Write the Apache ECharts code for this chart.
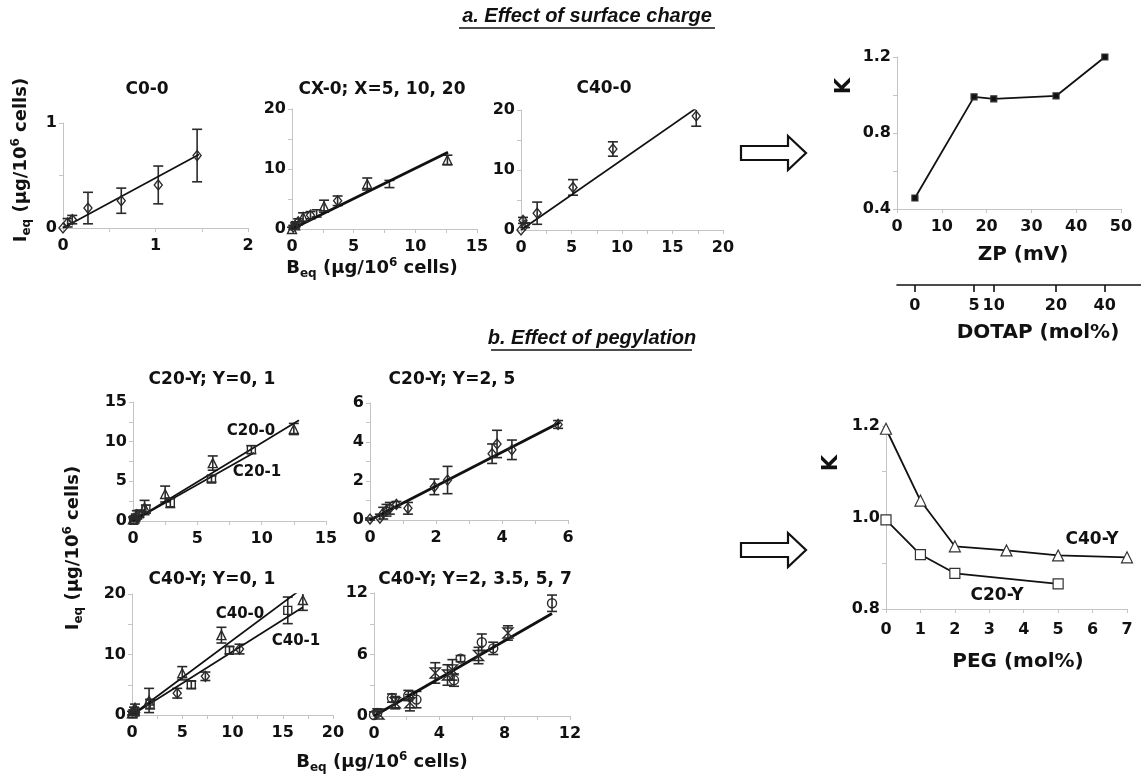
<!DOCTYPE html>
<html>
<head>
<meta charset="utf-8">
<script src="https://cdn.jsdelivr.net/npm/echarts@6/dist/echarts.min.js"></script>
<style>
  html, body { margin: 0; padding: 0; background: #fff; }
  #chart { width: 1141px; height: 775px; }
</style>
</head>
<body>
<div id="chart"></div>
<script>
// ---- data: [B_eq, I_eq, error] ----
var c00Pts = [[0, 0, 0], [0.05, 0.05, 0.04], [0.1, 0.08, 0.04], [0.27, 0.19, 0.15], [0.63, 0.26, 0.12], [1.03, 0.41, 0.18], [1.45, 0.69, 0.25]];
var c00Fit = [[0, 0], [1.47, 0.7]];

var cx0Tri = [[0, 0, 0.3], [0.25, 0.6, 0.4], [0.9, 2.0, 0.7], [2.6, 3.8, 1.0], [6.1, 7.5, 1.0], [12.6, 11.5, 0.8]];
var cx0Dia = [[0.1, 0.3, 0.3], [0.5, 1.2, 0.5], [1.5, 2.3, 0.6], [3.7, 4.7, 0.8]];
var cx0Plus = [[0.3, 0.8, 0.4], [2.0, 2.6, 0.6], [7.9, 7.5, 0.6]];
var cx0Fit = [[0, 0], [12.65, 12.8]];

var c400Pts = [[0, 0, 0], [0.2, 1.6, 0.5], [0.4, 0.8, 0.4], [1.6, 2.8, 1.85], [5.15, 7.1, 1.3], [9.1, 13.5, 1.2], [17.35, 19.0, 1.7]];
var c400Fit = [[0, 0], [17.35, 20.3]];

// K vs zeta potential, and the DOTAP content of each formulation
var zpVals = [4, 17.2, 21.6, 35.5, 46.4];
var zpK = [0.458, 0.99, 0.98, 0.995, 1.2];
var dotapLabels = ['0', '5', '10', '20', '40'];

var c20Y0 = [[0, 0.2, 0.3], [0.1, 0.3, 0.3], [0.3, 0.8, 0.5], [0.9, 1.7, 0.9], [2.5, 3.4, 1.0], [6.2, 7.3, 0.9], [12.5, 11.6, 0.7]];
var c20Y1 = [[0.05, 0.1, 0.2], [0.2, 0.4, 0.3], [0.5, 0.9, 0.4], [1.0, 1.5, 0.5], [2.9, 2.3, 0.6], [6.1, 5.3, 0.4], [9.2, 9.0, 0.5]];
var c20Fit0 = [[0, 0], [12.9, 12.7]];
var c20Fit1 = [[0, 0], [9.4, 8.6]];

var c20Y25 = [[0, 0.05, 0.05], [0.3, 0.1, 0.2], [0.4, 0.35, 0.3], [0.5, 0.5, 0.3], [0.6, 0.6, 0.3], [0.8, 0.8, 0.15], [1.15, 0.6, 0.3], [1.95, 1.7, 0.4], [2.35, 2.05, 0.7], [3.7, 3.4, 0.5], [3.85, 3.9, 0.7], [4.3, 3.6, 0.5], [5.7, 4.9, 0.2]];
var c20Fit25 = [[0, 0], [5.75, 5.0]];

var c40Y0 = [[0, 0.3, 0.3], [0.2, 0.8, 0.5], [0.3, 1.2, 0.6], [1.7, 2.4, 2.0], [5, 6.9, 1.1], [8.9, 13.2, 1.3], [17, 19, 1.7]];
var c40Y1 = [[0.1, 0.2, 0.2], [0.3, 0.5, 0.4], [1.8, 1.8, 0.8], [5.9, 5.0, 0.6], [9.7, 10.7, 0.6], [15.5, 17.3, 2.2]];
var c40Y1b = [[4.5, 3.6, 0.8], [7.3, 6.4, 0.7], [10.7, 10.9, 0.8]];
var c40Fit0 = [[0, 0], [17.4, 21.5]];
var c40Fit1 = [[0, 0], [17, 17.8]];

var c40YcircPts = [[0, 0.1, 0.3], [0.2, 0.3, 0.4], [1.1, 1.75, 0.4], [2.1, 2.0, 0.5], [2.6, 1.6, 0.8], [4.9, 3.5, 0.6], [5.3, 5.6, 0.3], [6.6, 7.2, 0.8], [7.3, 6.6, 0.6], [10.9, 11.0, 0.8]];
var c40YhourPts = [[0.3, 0.2, 0.4], [1.3, 1.3, 0.6], [2.2, 1.3, 0.8], [3.75, 4.2, 1.0], [4.5, 4.0, 1.0], [4.8, 4.5, 1.0], [6.4, 5.9, 0.8], [8.2, 8.1, 0.7]];
var c40YFit = [[0, 0], [10.9, 10.0]];

// K vs PEG
var peg40 = [0, 1, 2, 3.5, 5, 7];
var k40 = [1.194, 1.037, 0.937, 0.928, 0.917, 0.913];
var peg20 = [0, 1, 2, 5];
var k20 = [0.995, 0.919, 0.878, 0.855];

var FONT = 'DejaVu Sans, Liberation Sans, sans-serif';
var NARROW = 'Liberation Sans, Arial, sans-serif';
var INK = '#111';

function pairs(xs, ys) { return xs.map(function (x, i) { return [x, ys[i]]; }); }

function labFmt(step, dec) {
    return function (v) {
        var r = v / step;
        return Math.abs(r - Math.round(r)) < 1e-6 ? v.toFixed(dec) : '';
    };
}

function axis(idx, min, max, step, lab, dec, margin, size) {
    return {
        gridIndex: idx, type: 'value', min: min, max: max, interval: step,
        axisLine: { show: true, onZero: false, lineStyle: { color: '#c4c4c4', width: 1 } },
        axisTick: { show: true, length: 4, lineStyle: { color: '#c4c4c4' } },
        splitLine: { show: false },
        axisLabel: {
            show: true, margin: margin, color: INK, fontSize: size || 15, fontWeight: 'bold',
            fontFamily: FONT, formatter: labFmt(lab, dec), showMinLabel: true, showMaxLabel: true
        }
    };
}

function marks(idx, pts, sym, size) {
    return {
        type: 'scatter', xAxisIndex: idx, yAxisIndex: idx, z: 4, silent: true,
        data: pts.map(function (p) { return [p[0], p[1]]; }),
        symbol: sym, symbolSize: size,
        itemStyle: { color: 'rgba(255,255,255,0)', borderColor: '#2a2a2a', borderWidth: 1.4, opacity: 1 }
    };
}

function errBars(idx, pts) {
    return {
        type: 'custom', xAxisIndex: idx, yAxisIndex: idx, z: 3, silent: true,
        data: pts, encode: { x: 0, y: 1 },
        renderItem: function (params, api) {
            var x = api.value(0), y = api.value(1), e = api.value(2);
            if (!e) return null;
            var a = api.coord([x, y + e]), b = api.coord([x, y - e]);
            var top = params.coordSys.y, bot = params.coordSys.y + params.coordSys.height;
            var st = { stroke: '#2a2a2a', lineWidth: 1.6 };
            var ch = [{ type: 'line', shape: { x1: a[0], y1: Math.max(a[1], top), x2: a[0], y2: Math.min(b[1], bot) }, style: st }];
            if (a[1] >= top) ch.push({ type: 'line', shape: { x1: a[0] - 5, y1: a[1], x2: a[0] + 5, y2: a[1] }, style: st });
            if (b[1] <= bot) ch.push({ type: 'line', shape: { x1: b[0] - 5, y1: b[1], x2: b[0] + 5, y2: b[1] }, style: st });
            return { type: 'group', children: ch };
        }
    };
}

function fit(idx, pts, w) {
    return {
        type: 'line', xAxisIndex: idx, yAxisIndex: idx, data: pts, symbol: 'none', z: 3, silent: true,
        lineStyle: { color: INK, width: w || 1.7 }
    };
}

function kLine(idx, pts, sym, size, fill) {
    return {
        type: 'line', xAxisIndex: idx, yAxisIndex: idx, data: pts, symbol: sym, symbolSize: size,
        showAllSymbol: true, silent: true, z: 4,
        lineStyle: { color: INK, width: 1.8 },
        itemStyle: { color: fill, borderColor: '#333', borderWidth: 1.2 }
    };
}

function txt(x, y, s, size, extra, style, family) {
    var o = {
        type: 'text', x: x, y: y, z: 10,
        style: { text: s, fill: INK, font: (style || 'bold') + ' ' + size + 'px ' + (family || FONT), align: 'center', verticalAlign: 'middle' }
    };
    if (extra) for (var k in extra) o[k] = extra[k];
    return o;
}

function richLabel(x, y, lead, rot) {
    return {
        type: 'text', x: x, y: y, rotation: rot || 0, z: 10,
        style: {
            text: '{b|' + lead + '}{s|eq}{b| (µg/10}{p|6}{b| cells)}',
            align: 'center', verticalAlign: 'middle', fill: INK,
            rich: {
                b: { fontSize: 18, fontWeight: 'bold', fontFamily: FONT, fill: INK },
                s: { fontSize: 12, fontWeight: 'bold', fontFamily: FONT, fill: INK, padding: [11, 0, 0, 0] },
                p: { fontSize: 12, fontWeight: 'bold', fontFamily: FONT, fill: INK, padding: [0, 0, 11, 0] }
            }
        }
    };
}

function arrow(cx, cy) {
    var x0 = cx, xs = cx + 47, xt = cx + 65;
    return {
        type: 'polygon', z: 10,
        shape: { points: [[x0, cy - 7], [xs, cy - 7], [xs, cy - 17], [xt, cy], [xs, cy + 17], [xs, cy + 7], [x0, cy + 7]] },
        style: { fill: '#fff', stroke: INK, lineWidth: 2.2 }
    };
}

var grids = [
    { left: 63, top: 123, width: 185, height: 105 },   // 0 C0-0
    { left: 292, top: 109, width: 185, height: 120 },  // 1 CX-0
    { left: 521, top: 110, width: 202, height: 120 },  // 2 C40-0
    { left: 897, top: 57, width: 224, height: 152 },   // 3 K vs ZP
    { left: 897, top: 284, width: 244, height: 1 },    // 4 DOTAP scale
    { left: 133, top: 402, width: 193, height: 119 },  // 5 C20-Y 0,1
    { left: 370, top: 403, width: 198, height: 117 },  // 6 C20-Y 2,5
    { left: 132, top: 594, width: 201, height: 121 },  // 7 C40-Y 0,1
    { left: 374, top: 593, width: 196, height: 123 },  // 8 C40-Y 2..7
    { left: 886, top: 426, width: 241, height: 183 }   // 9 K vs PEG
];

var dotapAxis = {
    gridIndex: 4, type: 'value', min: 0, max: 54.5,
    axisLine: { show: true, onZero: false, lineStyle: { color: INK, width: 1.6 } },
    axisTick: { show: true, length: 7, customValues: zpVals, lineStyle: { color: INK, width: 1.6 } },
    splitLine: { show: false },
    axisLabel: {
        show: true, margin: 13, color: INK, fontSize: 16, fontWeight: 'bold', fontFamily: FONT,
        customValues: zpVals,
        formatter: function (v) { var i = zpVals.indexOf(v); return i < 0 ? '' : dotapLabels[i]; }
    }
};

var xAxes = [
    axis(0, 0, 2, 0.5, 1, 0, 10, 16),
    axis(1, 0, 15, 2.5, 5, 0, 10, 16),
    axis(2, 0, 20, 2.5, 5, 0, 10, 16),
    axis(3, 0, 50, 10, 10, 0, 10, 16),
    dotapAxis,
    axis(5, 0, 15, 2.5, 5, 0, 10, 16),
    axis(6, 0, 6, 1, 2, 0, 10, 16),
    axis(7, 0, 20, 2.5, 5, 0, 10, 16),
    axis(8, 0, 12, 2, 4, 0, 10, 16),
    axis(9, 0, 7, 1, 1, 0, 13, 16)
];
var yAxes = [
    axis(0, 0, 1, 0.5, 1, 0, 6, 16),
    axis(1, 0, 20, 5, 10, 0, 6, 16),
    axis(2, 0, 20, 5, 10, 0, 6, 16),
    axis(3, 0.4, 1.2, 0.2, 0.4, 1, 6, 16),
    { gridIndex: 4, type: 'value', show: false },
    axis(5, 0, 15, 2.5, 5, 0, 6, 16),
    axis(6, 0, 6, 1, 2, 0, 6, 16),
    axis(7, 0, 20, 5, 10, 0, 6, 16),
    axis(8, 0, 12, 3, 6, 0, 6, 16),
    axis(9, 0.8, 1.2, 0.1, 0.2, 1, 6, 16)
];

var PLUS = 'path://M0,5L10,5';
var HOUR = 'path://M0,0L10,0L0,10L10,10Z';

var series = [
    // a. surface charge
    fit(0, c00Fit), errBars(0, c00Pts), marks(0, c00Pts, 'diamond', [8, 10]),
    fit(1, cx0Fit, 2.8), errBars(1, cx0Tri), errBars(1, cx0Dia), errBars(1, cx0Plus),
    marks(1, cx0Tri, 'triangle', 9), marks(1, cx0Dia, 'diamond', [8, 10]), marks(1, cx0Plus, PLUS, [10, 2]),
    fit(2, c400Fit), errBars(2, c400Pts), marks(2, c400Pts, 'diamond', [8, 10]),
    kLine(3, pairs(zpVals, zpK), 'rect', 6, INK),
    // b. pegylation
    fit(5, c20Fit0), fit(5, c20Fit1), errBars(5, c20Y0), errBars(5, c20Y1),
    marks(5, c20Y0, 'triangle', 9), marks(5, c20Y1, 'rect', 8),
    fit(6, c20Fit25, 2.8), errBars(6, c20Y25), marks(6, c20Y25, 'diamond', [8, 10]),
    fit(7, c40Fit0), fit(7, c40Fit1), errBars(7, c40Y0), errBars(7, c40Y1), errBars(7, c40Y1b),
    marks(7, c40Y0, 'triangle', 9), marks(7, c40Y1, 'rect', 8), marks(7, c40Y1b, 'diamond', [8, 10]),
    fit(8, c40YFit, 2.8), errBars(8, c40YcircPts), errBars(8, c40YhourPts),
    marks(8, c40YcircPts, 'circle', 9), marks(8, c40YhourPts, HOUR, 10),
    kLine(9, pairs(peg40, k40), 'triangle', 11, '#fff'),
    kLine(9, pairs(peg20, k20), 'rect', 10, '#fff')
];

var UP = Math.PI / 2;
var graphics = [
    txt(587, 16, 'a. Effect of surface charge', 20, null, 'italic bold', NARROW),
    { type: 'line', shape: { x1: 459, y1: 28, x2: 715, y2: 28 }, style: { stroke: INK, lineWidth: 1.6 } },
    txt(592, 338, 'b. Effect of pegylation', 20, null, 'italic bold', NARROW),
    { type: 'line', shape: { x1: 491, y1: 350, x2: 692, y2: 350 }, style: { stroke: INK, lineWidth: 1.6 } },

    txt(147, 90, 'C0-0', 17),
    txt(382, 90, 'CX-0; X=5, 10, 20', 17),
    txt(604, 89, 'C40-0', 17),
    richLabel(21, 160, 'I', UP),
    richLabel(372, 268, 'B', 0),

    arrow(741, 153),
    txt(845, 86, 'K', 21, { rotation: UP }),
    txt(1023, 255, 'ZP (mV)', 20),
    txt(1038, 333, 'DOTAP (mol%)', 20),

    txt(212, 380, 'C20-Y; Y=0, 1', 17),
    txt(452, 380, 'C20-Y; Y=2, 5', 17),
    txt(212, 580, 'C40-Y; Y=0, 1', 17),
    txt(475, 580, 'C40-Y; Y=2, 3.5, 5, 7', 17),
    txt(251, 431, 'C20-0', 15),
    txt(257, 472, 'C20-1', 15),
    txt(240, 614, 'C40-0', 15),
    txt(296, 641, 'C40-1', 15),
    richLabel(73, 548, 'I', UP),
    richLabel(382, 762, 'B', 0),

    arrow(741, 550),
    txt(832, 463, 'K', 21, { rotation: UP }),
    txt(1018, 662, 'PEG (mol%)', 20),
    txt(1092, 540, 'C40-Y', 17),
    txt(997, 596, 'C20-Y', 17)
];

var chart = echarts.init(document.getElementById('chart'), null, { renderer: 'canvas' });
chart.setOption({
    backgroundColor: '#fff',
    animation: false,
    textStyle: { fontFamily: FONT },
    grid: grids,
    xAxis: xAxes,
    yAxis: yAxes,
    series: series,
    graphic: graphics
});
</script>
</body>
</html>
